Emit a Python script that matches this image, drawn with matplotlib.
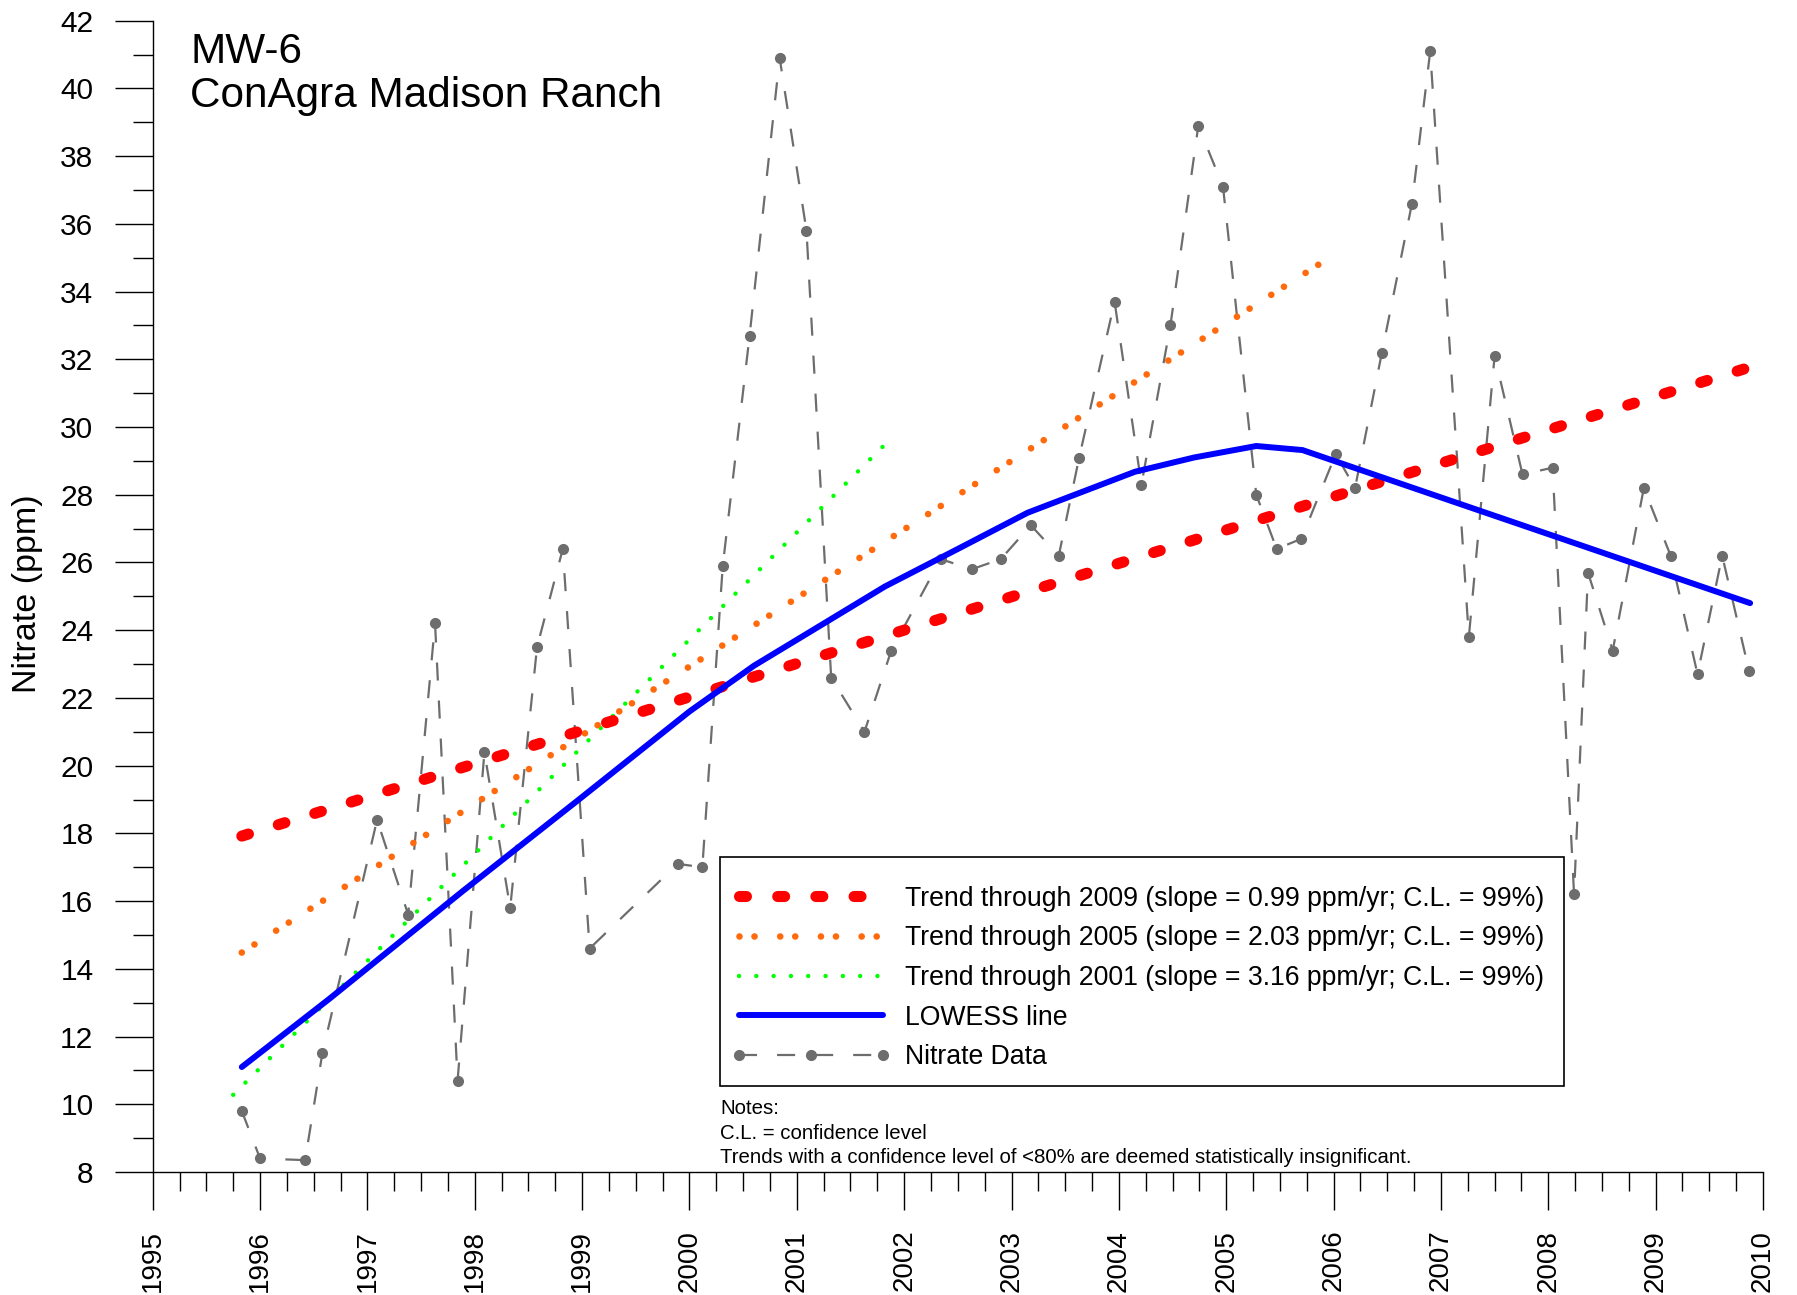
import matplotlib
matplotlib.use('Agg')
import matplotlib.pyplot as plt
from matplotlib.patches import Rectangle
from matplotlib.ticker import MultipleLocator

plt.rcParams['font.family'] = ['Liberation Sans', 'DejaVu Sans']
plt.rcParams['lines.scale_dashes'] = False

# nitrate samples (decimal year, ppm)
years = [1995.83, 1996.00, 1996.42, 1996.58, 1997.09, 1997.38, 1997.63, 1997.84,
         1998.09, 1998.33, 1998.58, 1998.82, 1999.07, 1999.89, 2000.12, 2000.31,
         2000.56, 2000.84, 2001.09, 2001.32, 2001.63, 2001.88, 2002.34, 2002.63,
         2002.90, 2003.18, 2003.44, 2003.63, 2003.96, 2004.21, 2004.48, 2004.74,
         2004.97, 2005.28, 2005.47, 2005.70, 2006.02, 2006.20, 2006.45, 2006.73,
         2006.90, 2007.26, 2007.50, 2007.76, 2008.04, 2008.24, 2008.37, 2008.60,
         2008.89, 2009.14, 2009.39, 2009.62, 2009.87]
nitrate = [9.8, 8.4, 8.35, 11.5, 18.4, 15.6, 24.2, 10.7,
           20.4, 15.8, 23.5, 26.4, 14.6, 17.1, 17.0, 25.9,
           32.7, 40.9, 35.8, 22.6, 21.0, 23.4, 26.1, 25.8,
           26.1, 27.1, 26.2, 29.1, 33.7, 28.3, 33.0, 38.9,
           37.1, 28.0, 26.4, 26.7, 29.2, 28.2, 32.2, 36.6,
           41.1, 23.8, 32.1, 28.6, 28.8, 16.2, 25.7, 23.4,
           28.2, 26.2, 22.7, 26.2, 22.8]

# LOWESS curve vertices
lowess_x = [1995.83, 1996.64, 1997.89, 1998.97, 2000.0, 2000.6, 2001.2, 2001.82,
            2002.5, 2003.15, 2004.15, 2004.7, 2005.28, 2005.71, 2009.88]
lowess_y = [11.1, 13.1, 16.3, 19.0, 21.6, 22.95, 24.1, 25.29,
            26.4, 27.47, 28.68, 29.1, 29.44, 29.32, 24.8]

# trend line end points
trend09_x = [1995.83, 2009.88]
trend09_y = [17.92, 31.77]
trend05_x = [1995.83, 2005.97]
trend05_y = [14.48, 35.02]
trend01_x = [1995.75, 2001.81]
trend01_y = [10.28, 29.45]

labels = ['Trend through 2009 (slope = 0.99 ppm/yr; C.L. = 99%)',
          'Trend through 2005 (slope = 2.03 ppm/yr; C.L. = 99%)',
          'Trend through 2001 (slope = 3.16 ppm/yr; C.L. = 99%)',
          'LOWESS line',
          'Nitrate Data']

W, H = 1797, 1295
fig = plt.figure(figsize=(W / 100, H / 100), dpi=100)
ax = fig.add_axes([152.7 / W, 1 - 1172 / H, (1763 - 152.7) / W, 1151.3 / H])

gray = '#6d6d6d'
h_data, = ax.plot(years, nitrate, color=gray, lw=1.6, linestyle=(0, (13, 14.4)),
                  marker='o', ms=7, mec=gray, mfc=gray, zorder=2)
h01, = ax.plot(trend01_x, trend01_y, color='#00ff00', lw=3.2,
               linestyle=(0, (0.01, 12.45)), dash_capstyle='round', zorder=3)
h05, = ax.plot(trend05_x, trend05_y, color='#ff6a0d', lw=4.8,
               linestyle=(0, (0.01, 10.8, 0.01, 18.5)), dash_capstyle='round', zorder=3)
h09, = ax.plot(trend09_x, trend09_y, color='#ff0000', lw=8,
               linestyle=(0, (5, 22.5)), dash_capstyle='round', zorder=4)
h_lo, = ax.plot(lowess_x, lowess_y, color='#0000ff', lw=4.3,
                solid_capstyle='round', solid_joinstyle='round', zorder=5)

ax.set_xlim(1995, 2010)
ax.set_ylim(8, 42)
ax.xaxis.set_major_locator(MultipleLocator(1))
ax.xaxis.set_minor_locator(MultipleLocator(0.25))
ax.yaxis.set_major_locator(MultipleLocator(2))
ax.yaxis.set_minor_locator(MultipleLocator(1))
ax.xaxis.set_major_formatter(plt.FuncFormatter(lambda v, p: '%d' % round(v)))

for s in ['top', 'right']:
    ax.spines[s].set_visible(False)
for s in ['left', 'bottom']:
    ax.spines[s].set_linewidth(1.0)

ax.tick_params(axis='y', which='major', direction='out', length=27.7, width=1,
               pad=15, labelsize=21.5)
ax.tick_params(axis='y', which='minor', direction='out', length=14.4, width=1)
ax.tick_params(axis='x', which='major', direction='out', length=27.5, width=1,
               pad=14, labelsize=20, labelrotation=90)
ax.tick_params(axis='x', which='minor', direction='out', length=14, width=1)

fig.text(28 / W, 1 - 594 / H, 'Nitrate (ppm)', rotation=90, ha='center',
         va='center', fontsize=24.5)

fig.text(190 / W, 1 - 63 / H, 'MW-6', fontsize=30.4, va='baseline')
fig.text(190 / W, 1 - 107 / H, 'ConAgra Madison Ranch', fontsize=30.4, va='baseline')

# legend box drawn separately so the padding can be uneven like the original
box = Rectangle((720 / W, 1 - 1086 / H), 844 / W, 229 / H, transform=fig.transFigure,
                facecolor='white', edgecolor='black', lw=1.2, zorder=1)
fig.add_artist(box)
leg = fig.legend([h09, h05, h01, h_lo, h_data], labels,
                 loc='upper left', bbox_to_anchor=(711 / W, 1 - 866 / H),
                 borderaxespad=0, frameon=False,
                 fontsize=19.2, numpoints=3, handlelength=6.0, handletextpad=0.53,
                 labelspacing=0.51, borderpad=0.74)
leg.set_zorder(2)

notes = ['Notes:', 'C.L. = confidence level',
         'Trends with a confidence level of <80% are deemed statistically insignificant.']
for txt, yb in zip(notes, [1114, 1139, 1163]):
    fig.text(720 / W, 1 - yb / H, txt, fontsize=14.7, va='baseline')

fig.savefig('out.png', dpi=100)
